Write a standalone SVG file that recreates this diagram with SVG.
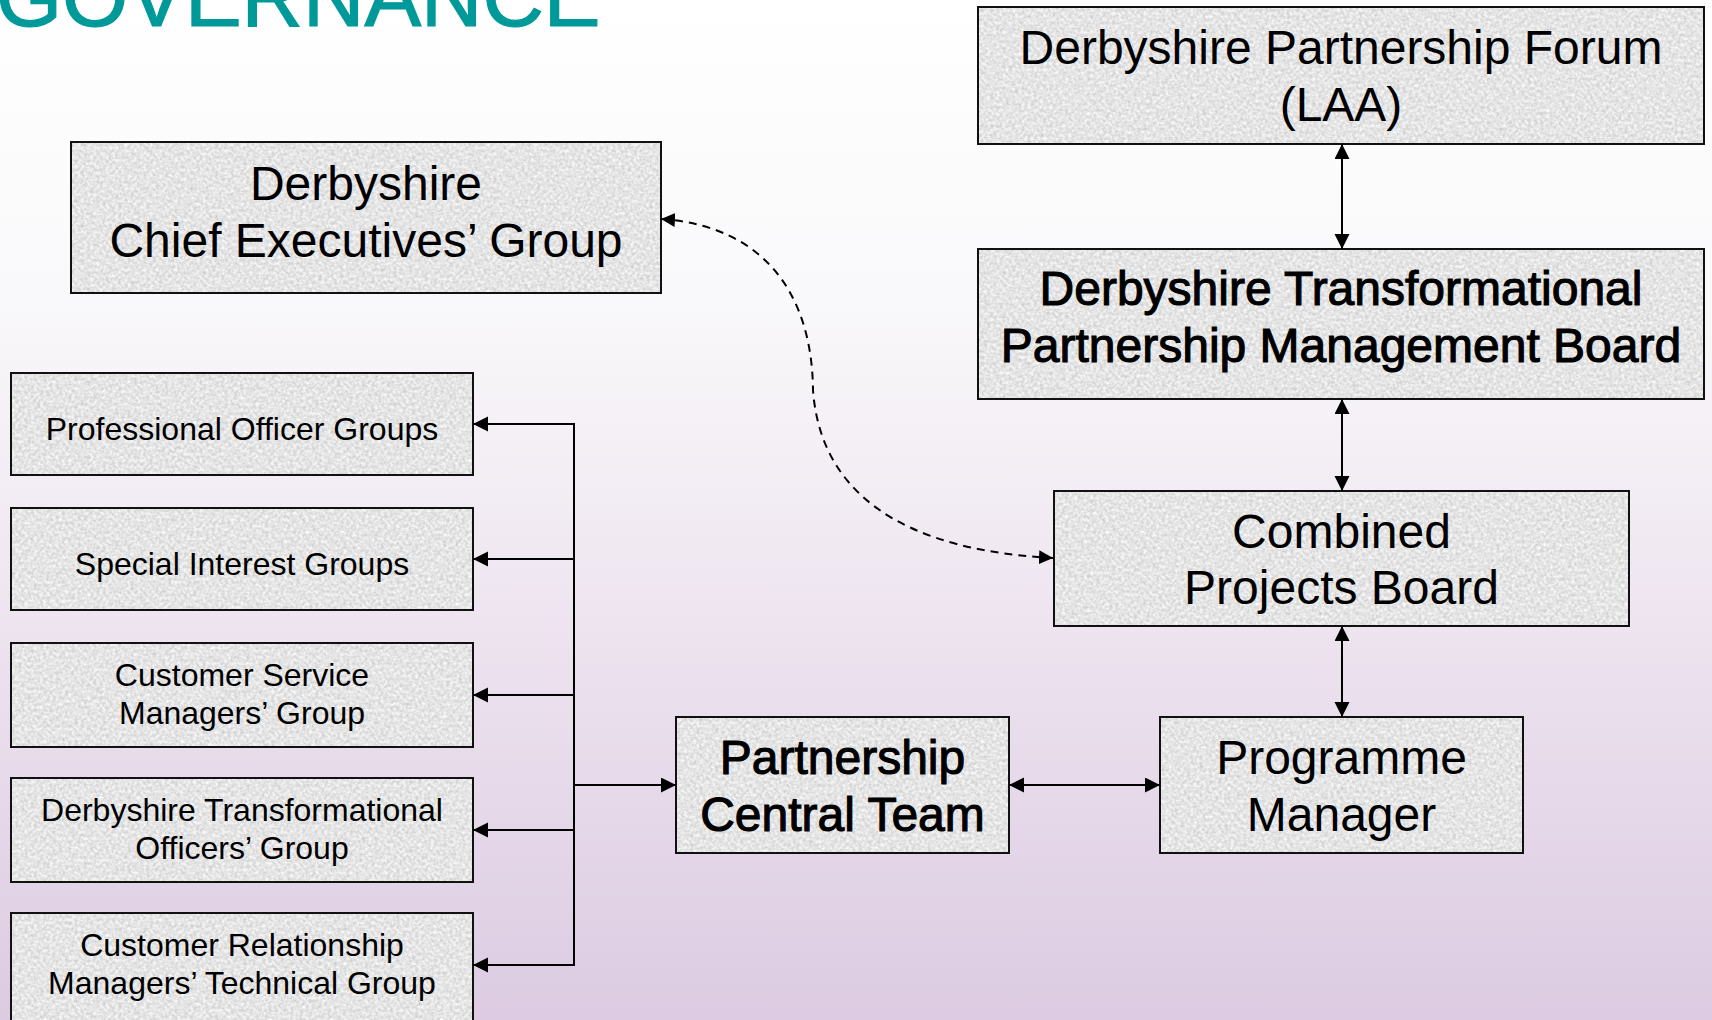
<svg xmlns="http://www.w3.org/2000/svg" width="1712" height="1020" viewBox="0 0 1712 1020">
  <defs>
    <linearGradient id="bg" x1="0" y1="0" x2="0" y2="1">
      <stop offset="0" stop-color="#ffffff"/>
      <stop offset="0.3" stop-color="#f9f8fa"/>
      <stop offset="0.6" stop-color="#eee5f0"/>
      <stop offset="1" stop-color="#dccbe2"/>
    </linearGradient>
    <!-- granite-like speckled fill for the boxes -->
    <filter id="granite" x="0" y="0" width="1" height="1">
      <feTurbulence type="fractalNoise" baseFrequency="0.32" numOctaves="4" seed="7" result="noise"/>
      <feColorMatrix in="noise" type="matrix" values="0 0 0 0 0.6  0 0 0 0 0.6  0 0 0 0 0.6  2.6 0 0 0 -1.25" result="dark"/>
      <feColorMatrix in="noise" type="matrix" values="0 0 0 0 1  0 0 0 0 1  0 0 0 0 1  -2.6 0 0 0 1.25" result="light"/>
      <feComposite in="dark" in2="SourceGraphic" operator="in" result="darkIn"/>
      <feComposite in="light" in2="SourceGraphic" operator="in" result="lightIn"/>
      <feMerge>
        <feMergeNode in="SourceGraphic"/>
        <feMergeNode in="darkIn"/>
        <feMergeNode in="lightIn"/>
      </feMerge>
    </filter>
    <marker id="arrow" markerUnits="userSpaceOnUse" markerWidth="16" markerHeight="16" refX="15" refY="7.5" orient="auto-start-reverse">
      <path d="M0,0 L15,7.5 L0,15 z" fill="#000"/>
    </marker>
    <marker id="arrowS" markerUnits="userSpaceOnUse" markerWidth="16" markerHeight="16" refX="14" refY="7" orient="auto-start-reverse">
      <path d="M0,0 L14,7 L0,14 z" fill="#000"/>
    </marker>
  </defs>
  <style>
    .tex { fill: #e6e6e6; filter: url(#granite); }
    .frame { fill: none; stroke: #111; stroke-width: 2; }
    .lbl { font-family: "Liberation Sans", Arial, sans-serif; font-size: 48px; fill: #000; text-anchor: middle; }
    .heavy { stroke: #000; stroke-width: 1.1; }
    .sm { font-family: "Liberation Sans", Arial, sans-serif; font-size: 32px; fill: #000; text-anchor: middle; }
    .con { fill: none; stroke: #000; stroke-width: 2; }
    .title { font-family: "Liberation Sans", Arial, sans-serif; font-size: 85px; fill: #009999; stroke: #009999; stroke-width: 1.2; }
  </style>

  <rect x="0" y="0" width="1712" height="1020" fill="url(#bg)"/>

  <text class="title" x="-4" y="26">GOVERNANCE</text>

  <g id="forum">
    <rect class="tex" x="978" y="7" width="726" height="137"/>
    <rect class="frame" x="978" y="7" width="726" height="137"/>
    <text class="lbl" x="1341" y="64">Derbyshire Partnership Forum</text>
    <text class="lbl" x="1341" y="121">(LAA)</text>
  </g>

  <g id="management-board">
    <rect class="tex" x="978" y="249" width="726" height="150"/>
    <rect class="frame" x="978" y="249" width="726" height="150"/>
    <text class="lbl heavy" x="1341" y="305">Derbyshire Transformational</text>
    <text class="lbl heavy" x="1341" y="362">Partnership Management Board</text>
  </g>

  <g id="combined-projects-board">
    <rect class="tex" x="1054" y="491" width="575" height="135"/>
    <rect class="frame" x="1054" y="491" width="575" height="135"/>
    <text class="lbl" x="1341.5" y="548">Combined</text>
    <text class="lbl" x="1341.5" y="604">Projects Board</text>
  </g>

  <g id="programme-manager">
    <rect class="tex" x="1160" y="717" width="363" height="136"/>
    <rect class="frame" x="1160" y="717" width="363" height="136"/>
    <text class="lbl" x="1341.5" y="774">Programme</text>
    <text class="lbl" x="1341.5" y="831">Manager</text>
  </g>

  <g id="partnership-central-team">
    <rect class="tex" x="676" y="717" width="333" height="136"/>
    <rect class="frame" x="676" y="717" width="333" height="136"/>
    <text class="lbl heavy" x="842.5" y="774">Partnership</text>
    <text class="lbl heavy" x="842.5" y="831">Central Team</text>
  </g>

  <g id="chief-executives">
    <rect class="tex" x="71" y="142" width="590" height="151"/>
    <rect class="frame" x="71" y="142" width="590" height="151"/>
    <text class="lbl" x="366" y="200">Derbyshire</text>
    <text class="lbl" x="366" y="257">Chief Executives’ Group</text>
  </g>

  <g id="professional-officer-groups">
    <rect class="tex" x="11" y="373" width="462" height="102"/>
    <rect class="frame" x="11" y="373" width="462" height="102"/>
    <text class="sm" x="242" y="440">Professional Officer Groups</text>
  </g>

  <g id="special-interest-groups">
    <rect class="tex" x="11" y="508" width="462" height="102"/>
    <rect class="frame" x="11" y="508" width="462" height="102"/>
    <text class="sm" x="242" y="575">Special Interest Groups</text>
  </g>

  <g id="customer-service-managers">
    <rect class="tex" x="11" y="643" width="462" height="104"/>
    <rect class="frame" x="11" y="643" width="462" height="104"/>
    <text class="sm" x="242" y="686">Customer Service</text>
    <text class="sm" x="242" y="724">Managers’ Group</text>
  </g>

  <g id="transformational-officers">
    <rect class="tex" x="11" y="778" width="462" height="104"/>
    <rect class="frame" x="11" y="778" width="462" height="104"/>
    <text class="sm" x="242" y="821">Derbyshire Transformational</text>
    <text class="sm" x="242" y="859">Officers’ Group</text>
  </g>

  <g id="crm-technical-group">
    <rect class="tex" x="11" y="913" width="462" height="112"/>
    <rect class="frame" x="11" y="913" width="462" height="112"/>
    <text class="sm" x="242" y="956">Customer Relationship</text>
    <text class="sm" x="242" y="994">Managers’ Technical Group</text>
  </g>

  <g id="connectors">
    <!-- distribution bus to the working groups -->
    <line class="con" x1="574" y1="423" x2="574" y2="966"/>
    <line class="con" x1="574" y1="424" x2="473" y2="424" marker-end="url(#arrow)"/>
    <line class="con" x1="574" y1="559" x2="473" y2="559" marker-end="url(#arrow)"/>
    <line class="con" x1="574" y1="695" x2="473" y2="695" marker-end="url(#arrow)"/>
    <line class="con" x1="574" y1="830" x2="473" y2="830" marker-end="url(#arrow)"/>
    <line class="con" x1="574" y1="965" x2="473" y2="965" marker-end="url(#arrow)"/>
    <line class="con" x1="574" y1="785" x2="676" y2="785" stroke-width="3" marker-end="url(#arrow)"/>
    <!-- two-way links -->
    <line class="con" x1="1009" y1="785" x2="1160" y2="785" marker-start="url(#arrow)" marker-end="url(#arrow)"/>
    <line class="con" x1="1342" y1="144" x2="1342" y2="249" marker-start="url(#arrow)" marker-end="url(#arrow)"/>
    <line class="con" x1="1342" y1="399" x2="1342" y2="491" marker-start="url(#arrow)" marker-end="url(#arrow)"/>
    <line class="con" x1="1342" y1="626" x2="1342" y2="717" marker-start="url(#arrow)" marker-end="url(#arrow)"/>
    <!-- dashed advisory link -->
    <path class="con" stroke-dasharray="8 6" d="M661,219 C765,226 812,295 813,390 C818,460 860,548 1053,558" marker-start="url(#arrowS)" marker-end="url(#arrowS)"/>
  </g>
</svg>
